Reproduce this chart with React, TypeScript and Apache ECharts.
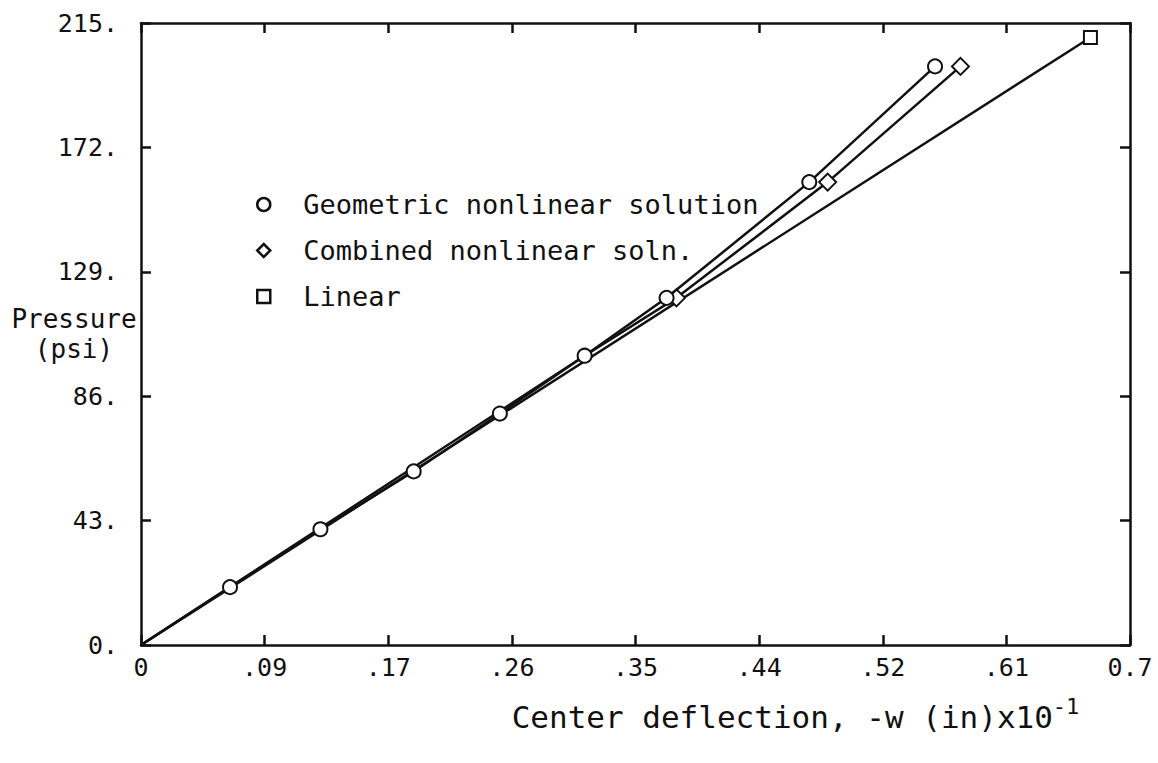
import React, { useEffect, useRef } from "react";
import * as echarts from "echarts";

const xTickLabels = ["0", ".09", ".17", ".26", ".35", ".44", ".52", ".61", "0.7"];
const yTickLabels = ["0.", "43.", "86.", "129.", "172.", "215."];

const geometricPressure = [0, 20, 40, 60, 80, 100, 120, 160, 200];
const geometricDeflection = [0, 0.063, 0.127, 0.193, 0.254, 0.314, 0.372, 0.473, 0.562];

const combinedPressure = [0, 100, 120, 160, 200];
const combinedDeflection = [0, 0.314, 0.379, 0.486, 0.58];
const combinedMarked = [false, false, true, true, true];

const linearPressure = [0, 210];
const linearDeflection = [0, 0.672];
const linearMarked = [false, true];

const seriesNames = ["Geometric nonlinear solution", "Combined nonlinear soln.", "Linear"];

const FONT = "'DejaVu Sans Mono', monospace";
const INK = "#111";
const X_STEP = 0.0875;
const Y_STEP = 43;

export default function App() {
  const ref = useRef<HTMLDivElement>(null);

  useEffect(() => {
    if (!ref.current) return;
    const chart = echarts.init(ref.current, undefined, { renderer: "svg" });

    const lineStyle = { color: INK, width: 2.5 };
    const itemStyle = { color: INK, borderColor: INK, borderWidth: 2.5 };

    const axisCommon = {
      axisLine: { show: true, onZero: false, lineStyle: { color: INK, width: 2.5 } },
      axisTick: { show: true, inside: true, length: 10, lineStyle: { color: INK, width: 2.5 } },
      splitLine: { show: false },
    };

    chart.setOption({
      animation: false,
      backgroundColor: "#fff",
      grid: { left: 141, right: 28, top: 23, bottom: 118, containLabel: false, outerBoundsMode: "none" },
      legend: {
        orient: "vertical",
        left: 251,
        top: 186,
        itemWidth: 13,
        itemHeight: 13,
        itemGap: 19,
        selectedMode: false,
        textStyle: { fontFamily: FONT, fontSize: 27, color: INK, lineHeight: 27, padding: [0, 0, 0, 28] },
        data: [
          { name: seriesNames[0], icon: "circle", itemStyle: { color: "#fff", borderColor: INK, borderWidth: 2.5 } },
          { name: seriesNames[1], icon: "diamond", itemStyle: { color: "#fff", borderColor: INK, borderWidth: 2.5 } },
          { name: seriesNames[2], icon: "rect", itemStyle: { color: "#fff", borderColor: INK, borderWidth: 2.5 } },
        ],
      },
      xAxis: [
        {
          type: "value",
          position: "bottom",
          min: 0,
          max: 0.7,
          interval: X_STEP,
          ...axisCommon,
          axisLabel: {
            show: true,
            margin: 10,
            fontFamily: FONT,
            fontSize: 25,
            color: INK,
            formatter: (v: number) => xTickLabels[Math.round(v / X_STEP)] ?? "",
          },
          name: "Center deflection, -w (in)x10{sup|-1}",
          nameLocation: "middle",
          nameGap: 50,
          nameMoveOverlap: false,
          nameTextStyle: {
            fontFamily: FONT,
            fontSize: 31,
            color: INK,
            padding: [0, 0, 0, 320],
            rich: { sup: { fontFamily: FONT, fontSize: 22, color: INK, padding: [0, 0, 22, 0] } },
          },
        },
        {
          type: "value",
          position: "top",
          min: 0,
          max: 0.7,
          interval: X_STEP,
          ...axisCommon,
          axisLabel: { show: false },
        },
      ],
      yAxis: [
        {
          type: "value",
          position: "left",
          min: 0,
          max: 215,
          interval: Y_STEP,
          ...axisCommon,
          axisLabel: {
            show: true,
            margin: 23,
            fontFamily: FONT,
            fontSize: 25,
            color: INK,
            formatter: (v: number) => yTickLabels[Math.round(v / Y_STEP)] ?? "",
          },
          name: "Pressure\n(psi)",
          nameLocation: "middle",
          nameRotate: 0,
          nameGap: 67,
          nameMoveOverlap: false,
          nameTextStyle: { fontFamily: FONT, fontSize: 26, color: INK, align: "center", lineHeight: 30 },
        },
        {
          type: "value",
          position: "right",
          min: 0,
          max: 215,
          interval: Y_STEP,
          ...axisCommon,
          axisLabel: { show: false },
        },
      ],
      series: [
        {
          name: seriesNames[2],
          type: "line",
          xAxisIndex: 0,
          yAxisIndex: 0,
          symbol: "emptyRect",
          symbolSize: 13,
          lineStyle,
          itemStyle,
          z: 2,
          data: linearPressure.map((p, i) => ({
            value: [linearDeflection[i], p],
            symbol: linearMarked[i] ? "emptyRect" : "none",
          })),
        },
        {
          name: seriesNames[1],
          type: "line",
          xAxisIndex: 0,
          yAxisIndex: 0,
          symbol: "emptyDiamond",
          symbolSize: 17,
          lineStyle,
          itemStyle,
          z: 3,
          data: combinedPressure.map((p, i) => ({
            value: [combinedDeflection[i], p],
            symbol: combinedMarked[i] ? "emptyDiamond" : "none",
          })),
        },
        {
          name: seriesNames[0],
          type: "line",
          xAxisIndex: 0,
          yAxisIndex: 0,
          symbol: "emptyCircle",
          symbolSize: 14,
          lineStyle,
          itemStyle,
          z: 4,
          data: geometricPressure.map((p, i) => ({
            value: [geometricDeflection[i], p],
            symbol: i === 0 ? "none" : "emptyCircle",
          })),
        },
      ],
    });

    return () => chart.dispose();
  }, []);

  return (
    <div
      ref={ref}
      style={{ position: "absolute", left: 0, top: 0, width: 1158, height: 763, background: "#fff" }}
    />
  );
}
